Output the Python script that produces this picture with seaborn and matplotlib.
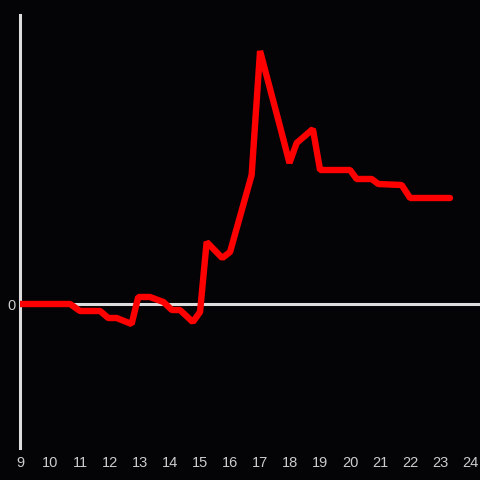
import matplotlib
matplotlib.use('Agg')
import matplotlib.pyplot as plt
import pandas as pd
import seaborn as sns

# hour of day and value
hours = [9.0, 10.67, 11.0, 11.67, 11.94, 12.22, 12.72, 12.94, 13.33, 13.78,
         14.06, 14.33, 14.76, 15.0, 15.22, 15.74, 16.0, 16.72, 17.0, 17.67,
         17.98, 18.22, 18.76, 19.0, 20.0, 20.22, 20.72, 20.94, 21.72, 22.0,
         23.33]
values = [0.0, 0.0, -0.28, -0.28, -0.56, -0.56, -0.8, 0.28, 0.28, 0.08,
          -0.24, -0.24, -0.72, -0.32, 2.48, 1.84, 2.08, 5.16, 10.12, 7.08,
          5.64, 6.44, 7.0, 5.36, 5.36, 5.0, 5.0, 4.8, 4.76, 4.24,
          4.24]
x_ticks = list(range(9, 25))

df = pd.DataFrame({'hour': hours, 'value': values})

BG = '#040306'
FG = '#dddddd'

sns.set_theme(style='white', rc={'figure.facecolor': BG, 'axes.facecolor': BG})
plt.rcParams['font.family'] = ['Liberation Sans', 'DejaVu Sans']

fig = plt.figure(figsize=(4.8, 4.8), dpi=100)
ax = fig.add_axes([20 / 480, 32 / 480, 460 / 480, 433 / 480])

ax.axhline(0, color=FG, lw=2.2, zorder=1)
sns.lineplot(data=df, x='hour', y='value', color='#ff0000', lw=4.6,
             solid_joinstyle='bevel', ax=ax, zorder=3)

ax.set_xlim(9, 24.33)
ax.set_ylim(-5.76, 11.56)
ax.set_xticks(x_ticks)
ax.set_xticklabels([str(t) for t in x_ticks])
ax.set_yticks([0])
ax.set_yticklabels(['0'])
ax.tick_params(axis='both', length=0, colors='#cccccc', labelsize=10.5)
ax.tick_params(axis='x', pad=6)
ax.tick_params(axis='y', pad=3)
ax.set_xlabel('')
ax.set_ylabel('')

for side in ['top', 'right', 'bottom']:
    ax.spines[side].set_visible(False)
ax.spines['left'].set_color(FG)
ax.spines['left'].set_linewidth(2.2)

fig.savefig('out.png', dpi=100, facecolor=BG)
